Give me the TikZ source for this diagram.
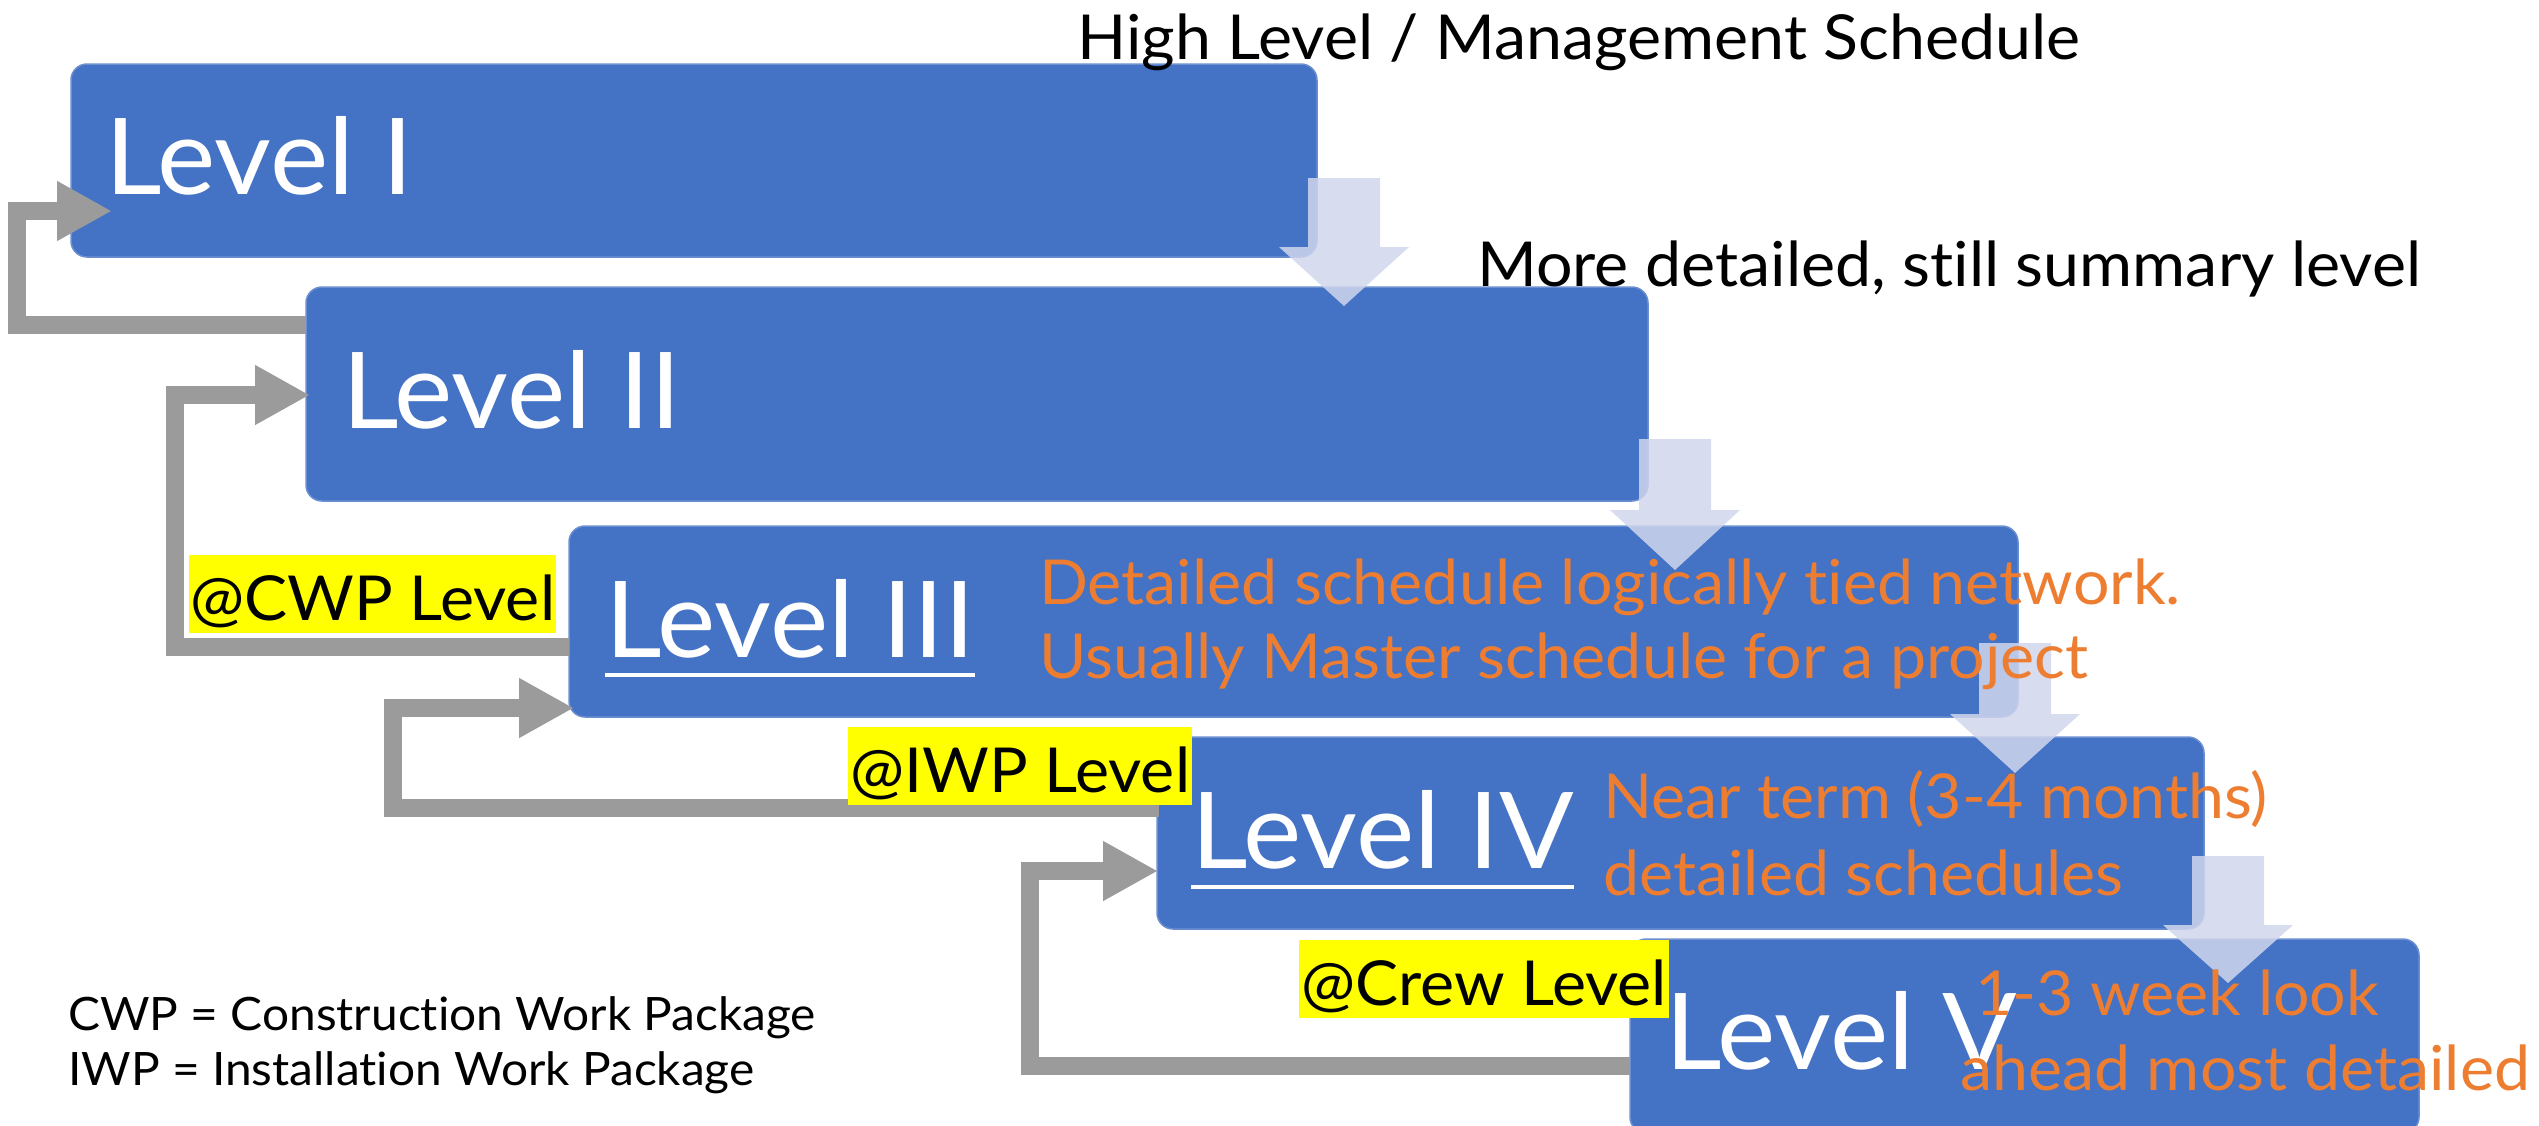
\documentclass[tikz,border=0pt]{standalone}
\usepackage{fontspec}
\setmainfont{Lato}[FakeStretch=1.04, Ligatures=NoCommon]
\usetikzlibrary{arrows.meta,calc}

\definecolor{boxblue}{RGB}{68,114,196}
\definecolor{boxedge}{RGB}{108,143,209}
\definecolor{noteorange}{RGB}{237,125,49}
\definecolor{linkgrey}{RGB}{155,155,155}
\definecolor{flowlav}{RGB}{208,214,236}
\definecolor{tagyellow}{RGB}{255,255,0}

\tikzset{
  levelbox/.style={draw=boxedge, line width=1.5pt, fill=boxblue, rounded corners=16pt,
    anchor=north west, inner sep=0pt, outer sep=0pt},
  leveltext/.style={anchor=base west, inner sep=0pt, text=white,
    font=\fontsize{106}{120}\selectfont},
  note/.style={anchor=base west, inner sep=0pt, text=noteorange,
    font=\fontsize{62}{74}\selectfont},
  heading/.style={anchor=base west, inner sep=0pt, text=black,
    font=\fontsize{62}{74}\selectfont},
  legend/.style={anchor=base west, inner sep=0pt, text=black,
    font=\fontsize{46}{55}\selectfont},
  tag/.style={anchor=base west, fill=tagyellow, inner xsep=0pt, inner ysep=0pt,
    text height=65pt, text depth=13pt, font=\fontsize{62}{74}\selectfont},
  link/.style={draw=linkgrey, line width=18.5pt, line join=miter,
    -{Triangle[length=55pt,width=56pt]}},
  flow/.style={fill=flowlav, fill opacity=0.85},
  underbar/.style={draw=white, line width=4pt},
}

% downward block arrow: #1 top centre, #2 shaft length, #3 head length
\newcommand\flowdown[3]{%
  \fill[flow] ($(#1)+(-36,0)$) -- ++(72,0) -- ++(0,#2) -- ++(29,0)
    -- ($(#1)+(0,#2+#3)$) -- ($(#1)+(-65,#2)$) -- ++(29,0) -- cycle;}

\begin{document}
\begin{tikzpicture}[x=1pt,y=-1pt]
  \useasboundingbox (0,0) rectangle (2539,1125);
  \clip (0,0) rectangle (2539,1125);

  % the five schedule levels
  \node[levelbox, minimum width=1246pt, minimum height=193pt] (b1) at (71,64) {};
  \node[levelbox, minimum width=1342pt, minimum height=214pt] (b2) at (306,287) {};
  \node[levelbox, minimum width=1449pt, minimum height=191pt] (b3) at (569,526) {};
  \node[levelbox, minimum width=1047pt, minimum height=192pt] (b4) at (1157,737) {};
  \node[levelbox, minimum width=789pt, minimum height=194pt] (b5) at (1630,939) {};

  % light downward arrows from one level to the next
  \coordinate (f1) at ($(b1.south east)+(27,-79)$);
  \coordinate (f2) at ($(b2.south east)+(27,-62)$);
  \coordinate (f3) at ($(b3.south east)+(-3,-74)$);
  \coordinate (f4) at ($(b4.south east)+(24,-73)$);
  \flowdown{f1}{69}{59}
  \flowdown{f2}{71}{60}
  \flowdown{f3}{71}{59}
  \flowdown{f4}{69}{58}

  % grey feedback links back to the level above
  \draw[link] ($(b2.north west)+(0,38)$) -| ($(b1.north west)+(-54,147)$)
    -- ($(b1.north west)+(41,147)$);
  \draw[link] ($(b3.north west)+(0,121)$) -| ($(b2.north west)+(-131,108)$)
    -- ($(b2.north west)+(4,108)$);
  \draw[link] ($(b4.north west)+(2,71)$) -| ($(b3.north west)+(-176,182)$)
    -- ($(b3.north west)+(5,182)$);
  \draw[link] ($(b5.north west)+(0,127)$) -| ($(b4.north west)+(-127,134)$)
    -- ($(b4.north west)+(1,134)$);

  % level titles
  \node[leveltext] (t1) at (105,194) {Level I};
  \node[leveltext] (t2) at (342,428) {Level II};
  \node[leveltext] (t3) at (605,657) {Level III};
  \node[leveltext] (t4) at (1191,868) {Level IV};
  \node[leveltext] (t5) at (1665,1069) {Level V};
  \draw[underbar] ($(t3.base west)+(0,18)$) -- ($(t3.base east)+(0,18)$);
  \draw[underbar] ($(t4.base west)+(0,19)$) -- ($(t4.base east)+(0,19)$);

  % descriptions
  \node[heading] (h1) at (1077,59) {High Level / Management Schedule};
  \node[heading] (h2) at (1477,286) {More detailed, still summary level};
  \node[note] (n3a) at (1039,604) {Detailed schedule logically tied network.};
  \node[note] (n3b) at (1039,678) {Usually Master schedule for a project};
  \node[note] (n4a) at (1603,818) {Near term (3-4 months)};
  \node[note] (n4b) at (1603,895) {detailed schedules};
  \node[note] (n5a) at (1975,1015) {1-3 week look};
  \node[note] (n5b) at (1960,1090) {ahead most detailed};

  % highlighted package levels
  \node[tag, minimum width=367pt] (g1) at (189,620) {@CWP Level};
  \node[tag, minimum width=344pt] (g2) at (848,792) {@IWP Level};
  \node[tag, minimum width=370pt] (g3) at (1299,1005) {@Crew Level};

  % abbreviations
  \node[legend] (k1) at (68,1030) {CWP = Construction Work Package};
  \node[legend] (k2) at (68,1085) {IWP = Installation Work Package};
\end{tikzpicture}
\end{document}
